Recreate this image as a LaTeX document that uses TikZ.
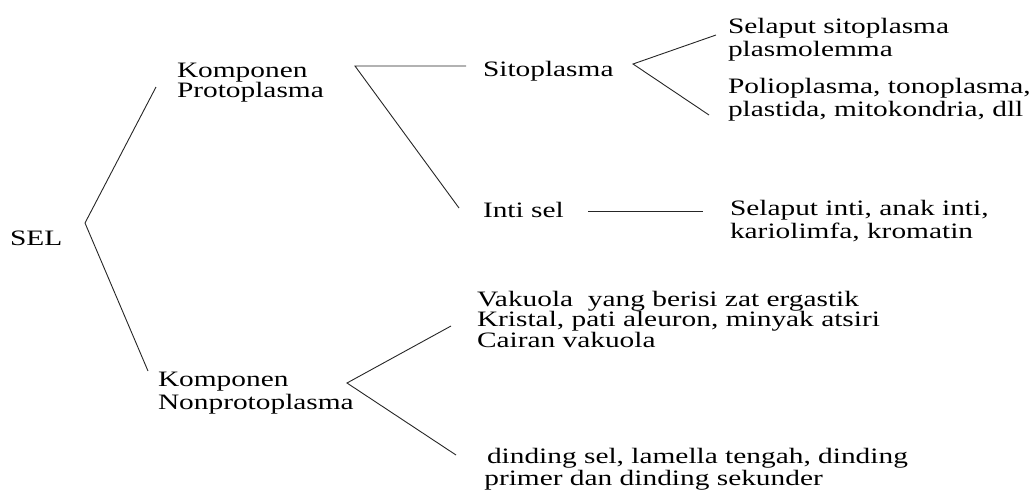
\documentclass[tikz,border=0pt]{standalone}
\usepackage{fontspec}
\setmainfont{Liberation Serif}
\newcommand{\blk}[2]{\scalebox{1.335}[1]{\fontsize{22}{#1}\selectfont\begin{tabular}[t]{@{}l@{}}#2\end{tabular}}}
\tikzset{
  lbl/.style={anchor=base west, inner sep=0pt, outer sep=0pt, text=black},
  conn/.style={draw=black!85, line width=0.9pt}
}
\begin{document}
\begin{tikzpicture}[x=1pt,y=1pt]
\useasboundingbox (0,0) rectangle (1035,-490);
% text blocks
\node[lbl] (sel) at (10,-245) {\blk{20}{SEL}};
\node[lbl] (kp) at (177,-77) {\blk{19}{Komponen\\Protoplasma}};
\node[lbl] (kn) at (158,-386) {\blk{23}{Komponen\\Nonprotoplasma}};
\node[lbl] (sito) at (483,-76) {\blk{20}{Sitoplasma}};
\node[lbl] (inti) at (483,-217) {\blk{20}{Inti sel}};
\node[lbl] (ss) at (728,-33) {\blk{23}{Selaput sitoplasma\\plasmolemma}};
\node[lbl] (pp) at (728,-93) {\blk{23}{Polioplasma, tonoplasma,\\plastida, mitokondria, dll}};
\node[lbl] (si) at (730,-215) {\blk{23}{Selaput inti, anak inti,\\kariolimfa, kromatin}};
\node[lbl] (vk) at (477,-306) {\blk{19}{Vakuola\ \ yang berisi zat ergastik\\Kristal, pati aleuron, minyak atsiri\\Cairan vakuola}};
\node[lbl] (dd) at (487,-463) {\blk{22}{dinding sel, lamella tengah, dinding\\\hspace{-2pt}primer dan dinding sekunder}};
% connector points
\coordinate (selv) at (85,-223);
\coordinate (selu) at (156,-87);
\coordinate (seld) at (148,-371);
\coordinate (kpv) at (355,-66);
\coordinate (kpu) at (466,-66);
\coordinate (kpd) at (459,-208);
\coordinate (sitv) at (633,-64);
\coordinate (situ) at (716,-35);
\coordinate (sitd) at (709,-115);
\coordinate (intl) at (588,-211);
\coordinate (intr) at (703,-211);
\coordinate (knv) at (347,-383);
\coordinate (knu) at (451,-326);
\coordinate (knd) at (456,-455);
% connectors
\draw[conn] (selu) -- (selv) -- (seld);
\draw[conn] (kpu) -- (kpv) -- (kpd);
\draw[conn] (situ) -- (sitv) -- (sitd);
\draw[conn] (intl) -- (intr);
\draw[conn] (knu) -- (knv) -- (knd);
\end{tikzpicture}
\end{document}
